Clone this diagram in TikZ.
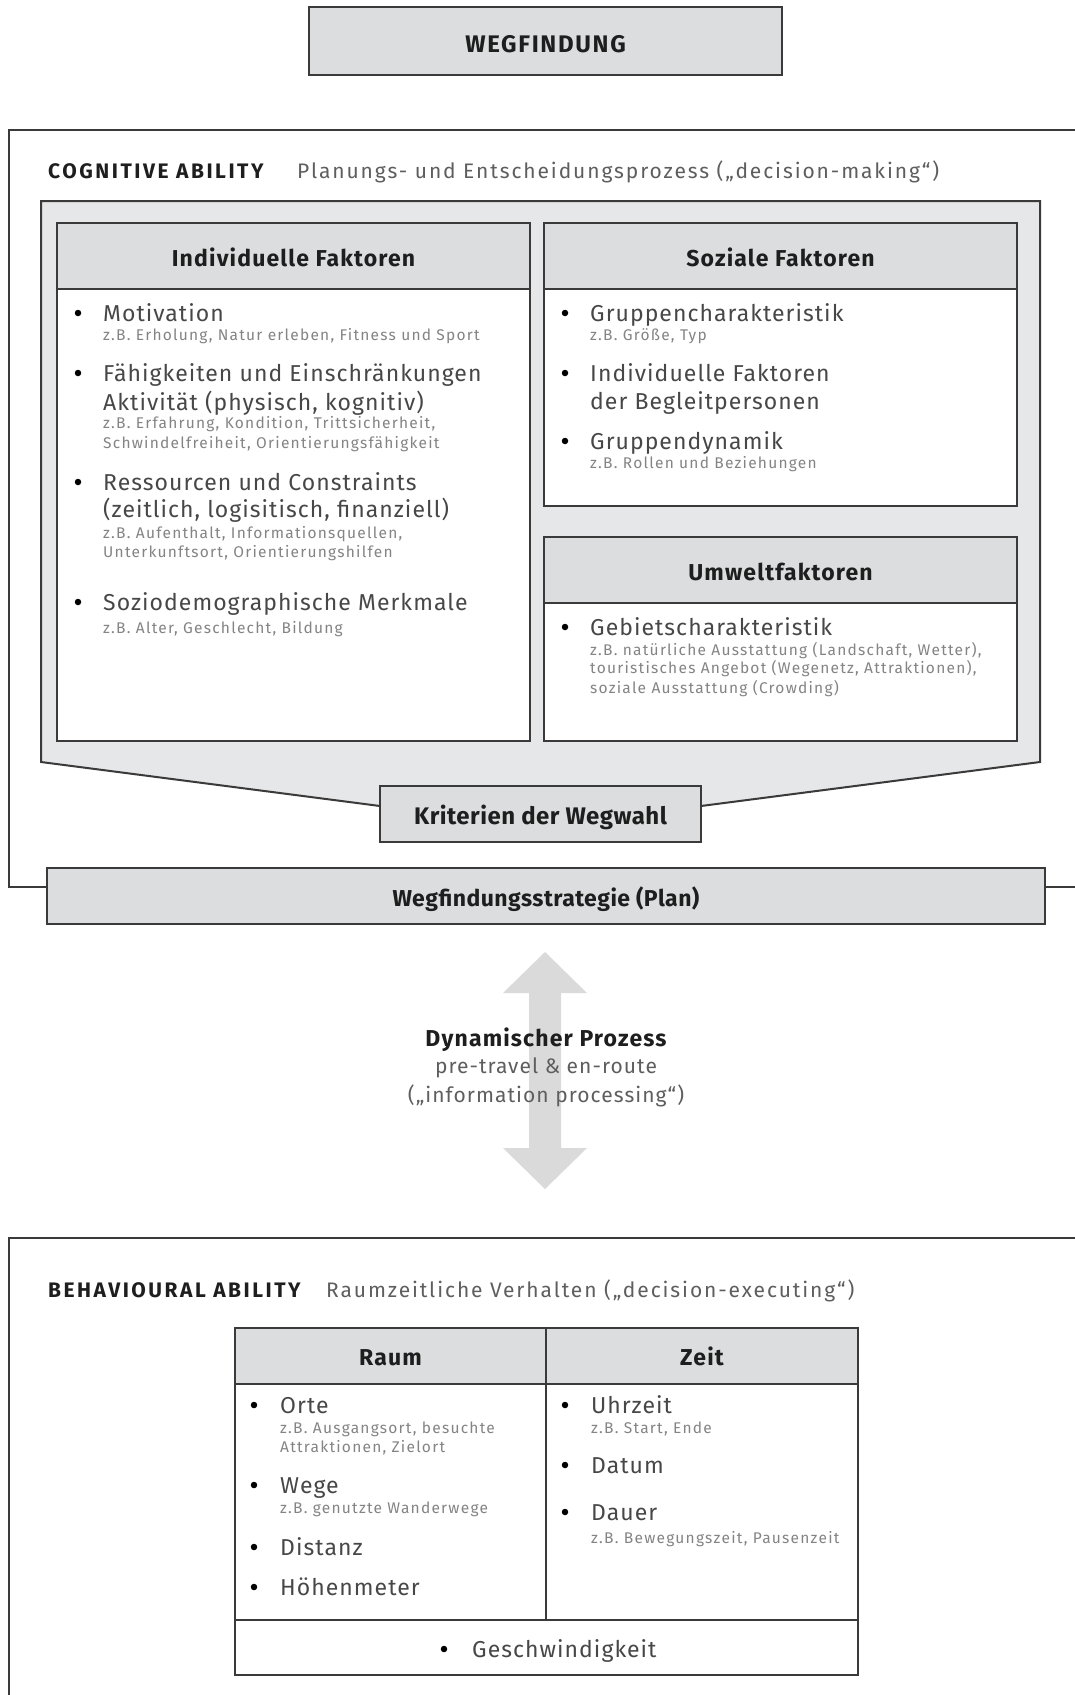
\documentclass[tikz,border=0pt]{standalone}
\usepackage{fontspec}
\setmainfont{Fira Sans}
\newfontfamily\itemfam[LetterSpace=4.5]{Fira Sans}
\newfontfamily\smallfam[LetterSpace=8]{Fira Sans}
\newfontfamily\headfam[LetterSpace=5]{Fira Sans}
\newfontfamily\boxfam[LetterSpace=2]{Fira Sans}
\newfontfamily\capsfam[LetterSpace=12]{Fira Sans}
\newfontfamily\subfam[LetterSpace=9]{Fira Sans}
\newfontfamily\arrowfam[LetterSpace=5]{Fira Sans}
\newfontfamily\titlefam[LetterSpace=7]{Fira Sans}
\usetikzlibrary{backgrounds}

\definecolor{linecol}{HTML}{3A3A3A}
\definecolor{panelgrey}{HTML}{E6E7E8}
\definecolor{headgrey}{HTML}{DCDDDE}
\definecolor{arrowgrey}{HTML}{DADADA}
\definecolor{titlecol}{HTML}{1E1E1E}
\definecolor{itemcol}{HTML}{474747}
\definecolor{smallcol}{HTML}{848484}
\definecolor{subcol}{HTML}{5E5E5E}

\newcommand\itemfont{\itemfam\fontsize{23}{27}\selectfont}
\newcommand\smallfont{\smallfam\fontsize{15.5}{18}\selectfont}
\newcommand\headfont{\headfam\fontsize{23}{27}\selectfont\bfseries}
\newcommand\boxfont{\boxfam\fontsize{24}{28}\selectfont\bfseries}
\newcommand\planfont{\boxfam\fontsize{23}{27}\selectfont\bfseries}
\newcommand\titlefont{\titlefam\fontsize{24}{28}\selectfont\bfseries}
\newcommand\capsfont{\capsfam\fontsize{21}{25}\selectfont\bfseries}
\newcommand\subfont{\subfam\fontsize{21}{25}\selectfont}
\newcommand\arrowfont{\arrowfam\fontsize{21}{25}\selectfont}

% a bullet point with its main line of text
\newcommand\bulletitem[5]{%
  \node[dot] (#1-dot) at (#2,#4-8) {};
  \node[itm] (#1) at (#3,#4) {#5};}
% a smaller line of examples below an item
\newcommand\exampleline[4]{\node[sml] (#1) at (#2,#3) {#4};}

\tikzset{
  greybox/.style={draw=linecol, line width=2pt, fill=headgrey, inner sep=0pt,
    outer sep=0pt, font=\headfont, text=titlecol, text height=21pt, text depth=0pt},
  headbox/.style={greybox, anchor=north west},
  bodybox/.style={draw=linecol, line width=2pt, fill=white, inner sep=0pt,
    outer sep=0pt, anchor=north west},
  frame/.style={draw=linecol, line width=1.6pt},
  panel/.style={draw=linecol, line width=2pt, fill=panelgrey, line join=miter},
  dot/.style={circle, fill=black, inner sep=0pt, minimum size=6.5pt},
  itm/.style={font=\itemfont, text=itemcol, anchor=base west, inner sep=0pt},
  sml/.style={font=\smallfont, text=smallcol, anchor=base west, inner sep=0pt},
  sectitle/.style={font=\capsfont, text=titlecol, anchor=base west, inner sep=0pt},
  secsub/.style={font=\subfont, text=subcol, anchor=base west, inner sep=0pt},
}

\begin{document}
\begin{tikzpicture}[x=1pt,y=-1pt]
\useasboundingbox (0,0) rectangle (1075,1695);

% ---- title ----
\node[greybox, font=\titlefont, text height=23pt, minimum width=473, minimum height=68] (title) at (545.5,41) {WEGFINDUNG};

% ---- cognitive ability frame ----
\coordinate (cogTL) at (9,130);
\coordinate (cogBL) at (9,887);
\coordinate (cogTR) at (1075,130);
\coordinate (cogBR) at (1075,887);
\node[greybox, font=\planfont, minimum width=998, minimum height=56] (plan) at (546,896) {Wegfindungsstrategie (Plan)};
\draw[frame] (plan.west |- cogBL) -- (cogBL) -- (cogTL) -- (cogTR);
\draw[frame] (plan.east |- cogBR) -- (cogBR);

\node[sectitle] (cogtitle) at (48,178) {COGNITIVE ABILITY};
\node[secsub] (cogsub) at (297,178) {Planungs- und Entscheidungsprozess („decision-making“)};

% funnel panel narrowing towards the criteria box
\node[greybox, font=\boxfont, text height=20pt, minimum width=321, minimum height=56] (krit) at (540.5,814) {Kriterien der Wegwahl};
\coordinate (slope) at (0,806);
\begin{scope}[on background layer]
  \fill[white] (0,0) rectangle (1075,1695);
  \draw[panel] (41,201) -- (1040,201) -- (1040,762) -- (krit.east |- slope)
    -- (krit.west |- slope) -- (41,762) -- cycle;
\end{scope}

% ---- individual factors ----
\node[bodybox, minimum width=473, minimum height=518] (indB) at (57,223) {};
\node[headbox, minimum width=473, minimum height=66] (indH) at (57,223) {Individuelle Faktoren};
\bulletitem{mot}{78}{103}{321}{Motivation}
\exampleline{motx}{103}{340}{z.B. Erholung, Natur erleben, Fitness und Sport}
\bulletitem{faeh}{78}{103}{381}{Fähigkeiten und Einschränkungen}
\node[itm] (akt) at (103,410) {Aktivität (physisch, kognitiv)};
\exampleline{faehx}{103}{428}{z.B. Erfahrung, Kondition, Trittsicherheit,}
\exampleline{faehy}{103}{448}{Schwindelfreiheit, Orientierungsfähigkeit}
\bulletitem{res}{78}{103}{490}{Ressourcen und Constraints}
\node[itm] (zeitl) at (103,517) {(zeitlich, logisitisch, finanziell)};
\exampleline{resx}{103}{538}{z.B. Aufenthalt, Informationsquellen,}
\exampleline{resy}{103}{557}{Unterkunftsort, Orientierungshilfen}
\bulletitem{sozio}{78}{103}{610}{Soziodemographische Merkmale}
\exampleline{soziox}{103}{633}{z.B. Alter, Geschlecht, Bildung}

% ---- social factors ----
\node[bodybox, minimum width=473, minimum height=283] (sozB) at (544,223) {};
\node[headbox, minimum width=473, minimum height=66] (sozH) at (544,223) {Soziale Faktoren};
\bulletitem{grp}{565}{590}{321}{Gruppencharakteristik}
\exampleline{grpx}{590}{340}{z.B. Größe, Typ}
\bulletitem{beg}{565}{590}{381}{Individuelle Faktoren}
\node[itm] (begl) at (590,409) {der Begleitpersonen};
\bulletitem{dyn}{565}{590}{449}{Gruppendynamik}
\exampleline{dynx}{590}{468}{z.B. Rollen und Beziehungen}

% ---- environmental factors ----
\node[bodybox, minimum width=473, minimum height=204] (umwB) at (544,537) {};
\node[headbox, minimum width=473, minimum height=66] (umwH) at (544,537) {Umweltfaktoren};
\bulletitem{geb}{565}{590}{635}{Gebietscharakteristik}
\exampleline{gebx}{590}{655}{z.B. natürliche Ausstattung (Landschaft, Wetter),}
\exampleline{geby}{590}{673}{touristisches Angebot (Wegenetz, Attraktionen),}
\exampleline{gebz}{590}{693}{soziale Ausstattung (Crowding)}

% ---- dynamic process arrow ----
\coordinate (arrtop) at (545,952);
\coordinate (arrbot) at (545,1189);
\fill[arrowgrey] (arrtop) -- ++(42,41) -- ++(-26,0) |- ++(0,155) -- ++(26,0)
  -- (arrbot) -- ++(-42,-41) -- ++(26,0) -- ++(0,-155) -- ++(-26,0) -- cycle;
\node[font=\headfont, text=titlecol, anchor=base, inner sep=0pt] (dynproc) at (546,1046) {Dynamischer Prozess};
\node[font=\arrowfont, text=subcol, anchor=base, inner sep=0pt] (dynproc2) at (546,1073) {pre-travel \& en-route};
\node[font=\arrowfont, text=subcol, anchor=base, inner sep=0pt] (dynproc3) at (546,1102) {(„information processing“)};

% ---- behavioural ability frame ----
\coordinate (behTL) at (9,1238);
\coordinate (behTR) at (1075,1238);
\coordinate (behBL) at (9,1695);
\draw[frame] (behTR) -- (behTL) -- (behBL);
\node[sectitle] (behtitle) at (48,1297) {BEHAVIOURAL ABILITY};
\node[secsub] (behsub) at (326,1297) {Raumzeitliche Verhalten („decision-executing“)};

% space / time table
\node[bodybox, minimum width=311, minimum height=292] (raumB) at (235,1328) {};
\node[bodybox, minimum width=312, minimum height=292] (zeitB) at (546,1328) {};
\node[headbox, text height=19pt, minimum width=311, minimum height=56] (raumH) at (235,1328) {Raum};
\node[headbox, text height=19pt, minimum width=312, minimum height=56] (zeitH) at (546,1328) {Zeit};
\node[bodybox, minimum width=623, minimum height=55] (speed) at (235,1620) {};

\bulletitem{orte}{254}{280}{1413}{Orte}
\exampleline{ortex}{280}{1433}{z.B. Ausgangsort, besuchte}
\exampleline{ortey}{280}{1452}{Attraktionen, Zielort}
\bulletitem{wege}{254}{280}{1493}{Wege}
\exampleline{wegex}{280}{1513}{z.B. genutzte Wanderwege}
\bulletitem{dist}{254}{280}{1555}{Distanz}
\bulletitem{hoehe}{254}{280}{1595}{Höhenmeter}

\bulletitem{uhr}{565}{591}{1413}{Uhrzeit}
\exampleline{uhrx}{591}{1433}{z.B. Start, Ende}
\bulletitem{dat}{565}{591}{1473}{Datum}
\bulletitem{dau}{565}{591}{1520}{Dauer}
\exampleline{daux}{591}{1543}{z.B. Bewegungszeit, Pausenzeit}

\bulletitem{gesch}{444}{472}{1657}{Geschwindigkeit}
\end{tikzpicture}
\end{document}
